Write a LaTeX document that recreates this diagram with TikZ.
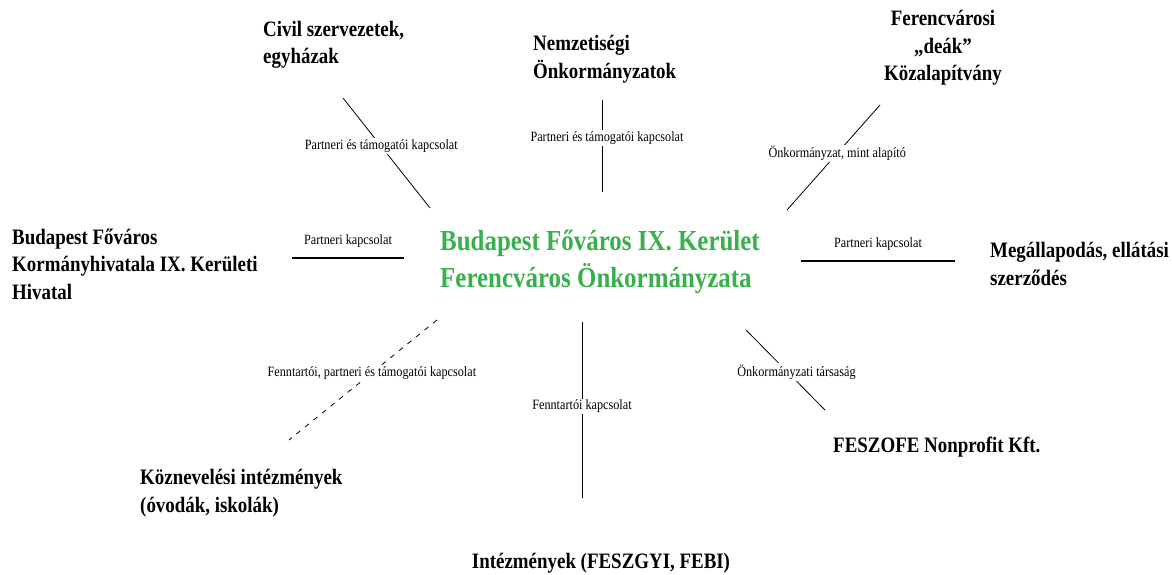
\documentclass[tikz,border=0pt]{standalone}
\usepackage{fontspec}
\setmainfont{Liberation Serif}[FakeStretch=0.86]
\usepackage{tikz}
\definecolor{fvgreen}{RGB}{56,176,76}
\tikzset{
    unit/.style={font=\bfseries\fontsize{22}{27.5}\selectfont,inner sep=0pt},
    centre/.style={font=\bfseries\fontsize{29}{37}\selectfont,text=fvgreen,align=left,inner sep=0pt},
    rel/.style={font=\fontsize{14.2}{16}\selectfont,fill=white,inner sep=1.5pt},
    link/.style={black,line width=0.8pt},
    partner/.style={black,line width=1.3pt}
}
\begin{document}
\begin{tikzpicture}[x=1pt,y=-1pt]
            \useasboundingbox (0,0) rectangle (1172,574);
            \node[centre,anchor=west] (onk) at (440,262) {Budapest Főváros IX. Kerület\\Ferencváros Önkormányzata};
            \node[unit,align=left,anchor=west] (civil) at (263,45) {Civil szervezetek,\\egyházak};
            \node[unit,align=left,anchor=west] (nemz) at (533,59) {Nemzetiségi\\Önkormányzatok};
            \node[unit,align=center] (deak) at (943,48) {Ferencvárosi\\„deák”\\Közalapítvány};
            \node[unit,align=left,anchor=west] (korm) at (12,264) {Budapest Főváros\\Kormányhivatala IX. Kerületi\\Hivatal};
            \node[unit,align=left,anchor=west] (megall) at (990,264) {Megállapodás, ellátási\\szerződés};
            \node[unit,align=left,anchor=west] (kozn) at (140,493) {Köznevelési intézmények\\(óvodák, iskolák)};
            \node[unit] (intez) at (601,563) {Intézmények (FESZGYI, FEBI)};
            \node[unit,anchor=west] (feszofe) at (833,447) {FESZOFE Nonprofit Kft.};
            \coordinate (civA) at (343,98);
            \coordinate (civB) at (430,208);
            \coordinate (nemA) at (602,100);
            \coordinate (nemB) at (602,192);
            \coordinate (deaA) at (880,105);
            \coordinate (deaB) at (787,210);
            \coordinate (korA) at (292,258);
            \coordinate (korB) at (404,258);
            \coordinate (megA) at (801,261);
            \coordinate (megB) at (955,261);
            \coordinate (kozA) at (437,320);
            \coordinate (kozB) at (289,440);
            \coordinate (intA) at (582,322);
            \coordinate (intB) at (582,498);
            \coordinate (fesA) at (746,330);
            \coordinate (fesB) at (825,410);
            \draw[link] (civA) -- node[rel,pos=0.44] {Partneri és támogatói kapcsolat} (civB);
            \draw[link] (nemA) -- node[rel,pos=0.41,xshift=5pt] {Partneri és támogatói kapcsolat} (nemB);
            \draw[link] (deaA) -- node[rel,pos=0.46] {Önkormányzat, mint alapító} (deaB);
            \draw[partner] (korA) -- node[rel,midway,above=8pt] {Partneri kapcsolat} (korB);
            \draw[partner] (megA) -- node[rel,midway,above=8pt] {Partneri kapcsolat} (megB);
            \draw[link,dash pattern=on 5pt off 6pt] (kozA) -- node[rel,pos=0.44] {Fenntartói, partneri és támogatói kapcsolat} (kozB);
            \draw[link] (intA) -- node[rel,pos=0.48] {Fenntartói kapcsolat} (intB);
            \draw[link] (fesA) -- node[rel,pos=0.525,xshift=9pt] {Önkormányzati társaság} (fesB);
\end{tikzpicture}
\end{document}
